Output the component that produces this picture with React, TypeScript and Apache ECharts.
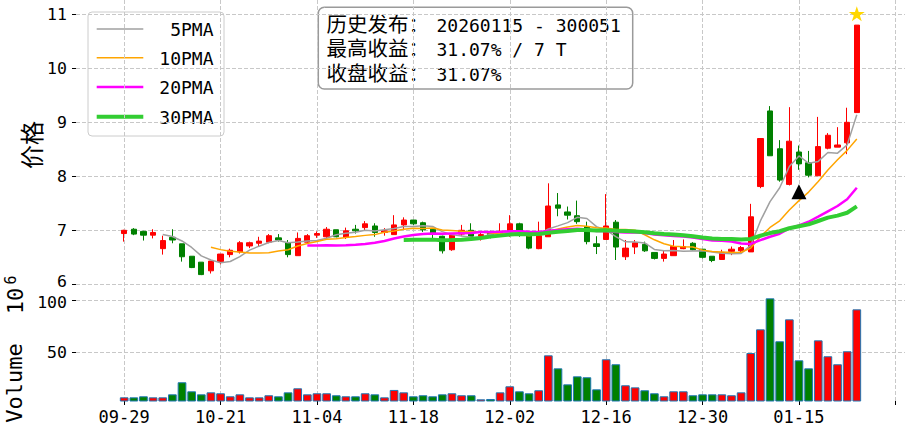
import React, { useEffect, useRef } from 'react';
import * as echarts from 'echarts';

// ---------- data ----------
const dates = [
  '09-29', '09-30', '10-09', '10-10', '10-13', '10-14', '10-15', '10-16', '10-17', '10-20',
  '10-21', '10-22', '10-23', '10-24', '10-27', '10-28', '10-29', '10-30', '10-31', '11-03',
  '11-04', '11-05', '11-06', '11-07', '11-10', '11-11', '11-12', '11-13', '11-14', '11-17',
  '11-18', '11-19', '11-20', '11-21', '11-24', '11-25', '11-26', '11-27', '11-28', '12-01',
  '12-02', '12-03', '12-04', '12-05', '12-08', '12-09', '12-10', '12-11', '12-12', '12-15',
  '12-16', '12-17', '12-18', '12-19', '12-22', '12-23', '12-24', '12-25', '12-26', '12-29',
  '12-30', '12-31', '01-05', '01-06', '01-07', '01-08', '01-09', '01-12', '01-13', '01-14',
  '01-15', '01-16', '01-19', '01-20', '01-21', '01-22', '01-23',
];

const opens = [
  6.94, 7.02, 6.98, 6.91, 6.66, 6.87, 6.75, 6.52, 6.41, 6.25,
  6.42, 6.55, 6.60, 6.71, 6.76, 6.78, 6.86, 6.77, 6.53, 6.78,
  6.91, 6.88, 7.01, 6.87, 7.02, 7.05, 7.08, 6.96, 6.92, 7.10,
  7.19, 7.14, 7.02, 6.89, 6.64, 6.93, 7.00, 6.89, 6.95, 6.94,
  6.97, 7.12, 6.91, 6.66, 6.88, 7.47, 7.34, 7.27, 7.07, 6.75,
  6.83, 7.15, 6.51, 6.69, 6.74, 6.59, 6.48, 6.53, 6.66, 6.76,
  6.65, 6.52, 6.46, 6.61, 6.62, 6.60, 7.81, 9.21, 8.51, 7.85,
  8.45, 8.25, 8.01, 8.52, 8.54, 8.62, 9.18,
];
const closes = [
  7.00, 6.93, 6.91, 6.96, 6.81, 6.82, 6.51, 6.31, 6.18, 6.43,
  6.56, 6.63, 6.77, 6.77, 6.80, 6.90, 6.82, 6.55, 6.85, 6.90,
  6.94, 7.02, 6.88, 6.99, 6.99, 7.12, 6.96, 6.99, 7.10, 7.19,
  7.12, 7.01, 6.94, 6.62, 6.91, 7.00, 6.89, 6.92, 6.92, 6.98,
  7.12, 6.98, 6.67, 6.90, 7.45, 7.41, 7.28, 7.16, 6.79, 6.70,
  7.08, 6.69, 6.67, 6.77, 6.62, 6.48, 6.56, 6.70, 6.70, 6.64,
  6.50, 6.44, 6.59, 6.65, 6.68, 7.25, 8.70, 8.38, 7.93, 8.65,
  8.23, 8.02, 8.55, 8.76, 8.58, 9.00, 10.80,
];
const lows = [
  6.79, 6.91, 6.81, 6.85, 6.55, 6.76, 6.42, 6.30, 6.17, 6.20,
  6.37, 6.50, 6.57, 6.67, 6.69, 6.76, 6.79, 6.50, 6.53, 6.76,
  6.86, 6.86, 6.87, 6.84, 6.94, 6.99, 6.88, 6.90, 6.92, 7.02,
  7.10, 6.97, 6.84, 6.57, 6.62, 6.89, 6.83, 6.81, 6.85, 6.88,
  6.88, 6.88, 6.65, 6.65, 6.88, 7.26, 7.20, 7.12, 6.74, 6.56,
  6.83, 6.45, 6.45, 6.56, 6.60, 6.46, 6.42, 6.53, 6.65, 6.63,
  6.48, 6.41, 6.46, 6.54, 6.60, 6.60, 7.78, 8.38, 7.90, 7.83,
  8.12, 7.98, 8.01, 8.50, 8.54, 8.41, 9.18,
];
const highs = [
  7.01, 7.04, 6.99, 7.02, 6.90, 7.02, 6.75, 6.52, 6.41, 6.43,
  6.56, 6.66, 6.80, 6.79, 6.88, 6.93, 6.93, 6.82, 6.96, 6.93,
  6.98, 7.06, 7.01, 7.05, 7.10, 7.17, 7.13, 7.04, 7.28, 7.24,
  7.19, 7.16, 7.03, 6.90, 6.93, 7.10, 7.13, 6.97, 6.99, 7.13,
  7.28, 7.14, 6.91, 7.16, 7.87, 7.69, 7.44, 7.55, 7.16, 6.89,
  7.67, 7.19, 6.82, 6.82, 6.79, 6.59, 6.62, 6.82, 6.83, 6.78,
  6.65, 6.52, 6.64, 6.70, 6.71, 7.49, 8.70, 9.30, 8.67, 9.28,
  8.57, 8.47, 9.10, 8.80, 8.91, 9.27, 10.80,
];
// volume, in units of 10^6
const volumes = [
  6.7, 6.7, 7.7, 6.7, 6.7, 9.6, 21.2, 12.5, 9.6, 11.5,
  10.6, 7.7, 9.6, 6.7, 6.7, 8.7, 7.7, 11.5, 15.4, 9.6,
  10.6, 10.6, 8.7, 7.7, 7.7, 10.6, 9.6, 6.7, 13.8, 11.5,
  7.7, 8.7, 7.7, 9.6, 10.6, 8.7, 8.7, 4.8, 5.1, 11.5,
  17.3, 12.5, 10.6, 13.5, 47.1, 34.6, 19.2, 26.9, 26.0, 14.4,
  43.3, 38.5, 18.3, 16.3, 13.5, 10.6, 7.7, 12.5, 12.5, 8.7,
  9.6, 9.6, 9.6, 8.7, 11.5, 49.3, 72.1, 101.9, 60.6, 81.7,
  42.3, 34.6, 61.5, 46.2, 38.5, 51.0, 91.3,
];

const maNames = ['5PMA', '10PMA', '20PMA', '30PMA'];
const maPeriods = [5, 10, 20, 30];
const priceTicks = [6, 7, 8, 9, 10, 11];
const volumeTicks = [50, 100];
const releaseMarker = { date: '01-15', price: 7.715 };
const peakMarker = { date: '01-23', price: 11.01 };
const infoLabels = ['历史发布：', '最高收益：', '收盘收益：'];
const infoValues = ['20260115 - 300051', '31.07% / 7 T', '31.07%'];

// ---------- layout / style ----------
const PAD_BEFORE = 5;
const PAD_AFTER = 5;
const TICK_EVERY = 10;
const UNIT = 9.663;
const FIRST_X = 124.3;
const MONO = "'DejaVu Sans Mono', monospace";
const CJK = "'Noto Sans CJK SC', sans-serif";
// compact line metrics (DejaVu Sans) with Chinese glyphs from Noto Sans CJK SC
const CJK_COMPACT = "'DejaVu Sans', 'Noto Sans CJK SC', sans-serif";
const UP = '#ff0000';
const DOWN = '#008000';
const GRID_LINE = { color: '#c8c8c8', width: 1, type: [4, 2] };
const maStyles = [
  { color: '#a0a0a0', width: 1.5 },
  { color: '#ffa500', width: 1.5 },
  { color: '#ff00ff', width: 2.5 },
  { color: '#32cd32', width: 4 },
];

const xCats = [
  ...Array(PAD_BEFORE).fill(''),
  ...dates,
  ...Array(PAD_AFTER).fill(''),
];
const tickFn = (index: number) => index >= PAD_BEFORE && (index - PAD_BEFORE) % TICK_EVERY === 0;

function movingAverage(values: number[], n: number) {
  const out: [number, number][] = [];
  for (let i = n - 1; i < values.length; i++) {
    let s = 0;
    for (let j = i - n + 1; j <= i; j++) s += values[j];
    out.push([i + PAD_BEFORE, +(s / n).toFixed(4)]);
  }
  return out;
}

function buildOption() {
  const gridLeft = FIRST_X - PAD_BEFORE * UNIT;
  const gridWidth = (xCats.length - 1) * UNIT;
  const priceTop = 0, priceBottom = 289, volTop = 289, volBottom = 401;
  const pxPerPrice = 54, priceRef = 11, priceRefY = 14.3;
  const pxPerVol = 1.04, volRef = 100, volRefY = 300.3;

  const priceMax = priceRef + (priceRefY - priceTop) / pxPerPrice;
  const priceMin = priceRef - (priceBottom - priceRefY) / pxPerPrice;
  const volMax = volRef + (volRefY - volTop) / pxPerVol;
  const volMin = volRef - (volBottom - volRefY) / pxPerVol;

  const labelFont = { color: '#000', fontFamily: MONO, fontSize: 16.5 };

  const xAxis = (gridIndex: number, labels: boolean) => ({
    type: 'category',
    gridIndex,
    data: xCats,
    boundaryGap: false,
    axisLine: { show: false },
    axisTick: { show: labels, length: 4, interval: tickFn, lineStyle: { color: '#000', width: 1 } },
    axisLabel: { show: labels, interval: tickFn, margin: 7, ...labelFont, fontSize: 17 },
    splitLine: { show: true, interval: tickFn, lineStyle: GRID_LINE },
  });

  // the lowest price label and the highest volume label sit close together: nudge them apart slightly
  const yAxis = (gridIndex: number, min: number, max: number, ticks: number[], nudge: 'up' | 'down') => ({
    type: 'value',
    gridIndex,
    min, max,
    axisLine: { show: false },
    axisTick: { show: true, length: 4, customValues: ticks, lineStyle: { color: '#000', width: 1 } },
    axisLabel: {
      customValues: ticks, margin: 9, ...labelFont,
      formatter: (v: number) => {
        const edge = nudge === 'up' ? ticks[0] : ticks[ticks.length - 1];
        return v === edge ? `{n|${v}}` : `${v}`;
      },
      rich: {
        n: {
          ...labelFont,
          padding: nudge === 'up' ? [0, 0, 5, 0] : [4, 0, 0, 0],
        },
      },
    },
    splitLine: { show: true, lineStyle: GRID_LINE },
  });

  const candleData = dates.map((_, i) => [i + PAD_BEFORE, opens[i], closes[i], lows[i], highs[i]]);
  const volData = dates.map((_, i) => ({
    value: [i + PAD_BEFORE, volumes[i]],
    itemStyle: { color: closes[i] >= opens[i] ? UP : DOWN },
  }));

  const maSeries = maPeriods.map((p, k) => ({
    name: maNames[k],
    type: 'line',
    xAxisIndex: 0,
    yAxisIndex: 0,
    data: movingAverage(closes, p),
    showSymbol: false,
    symbol: 'none',
    smooth: false,
    lineStyle: { color: maStyles[k].color, width: maStyles[k].width },
    z: 3,
  }));

  const legendX0 = 88, legendY0 = 12, legendW = 136, legendH = 124;
  const legendRowY = [29, 57.7, 87, 116.7];
  const legendEls: any[] = [
    {
      type: 'rect',
      shape: { x: legendX0, y: legendY0, width: legendW, height: legendH, r: 4 },
      style: { fill: 'rgba(255,255,255,0.8)', stroke: '#cccccc', lineWidth: 1 },
    },
  ];
  maNames.forEach((name, k) => {
    legendEls.push({
      type: 'line',
      shape: { x1: 96.7, y1: legendRowY[k], x2: 143.3, y2: legendRowY[k] },
      style: { stroke: maStyles[k].color, lineWidth: maStyles[k].width },
    });
    legendEls.push({
      type: 'text',
      x: 213.5,
      y: legendRowY[k] + 0.5,
      style: {
        text: name, fill: '#000', fontFamily: MONO, fontSize: 18,
        align: 'right', verticalAlign: 'middle',
      },
    });
  });

  const infoRowY = [25, 49.3, 74];
  const infoEls: any[] = [
    {
      type: 'rect',
      shape: { x: 318.3, y: 7.3, width: 314.4, height: 81.7, r: 6 },
      style: { fill: 'rgba(255,255,255,0.9)', stroke: '#9a9a9a', lineWidth: 1.5 },
    },
  ];
  infoLabels.forEach((lab, k) => {
    infoEls.push({
      type: 'text',
      x: 326.5,
      y: infoRowY[k],
      style: {
        text: `{c|${lab}}{e|${infoValues[k]}}`,
        align: 'left',
        verticalAlign: 'middle',
        fill: '#000',
        rich: {
          c: { fontFamily: CJK_COMPACT, fontSize: 20.5, width: 110, fill: '#000', color: '#000' },
          e: { fontFamily: MONO, fontSize: 18, fill: '#000', color: '#000' },
        },
      },
    });
  });

  const axisNameEls: any[] = [
    {
      type: 'text', x: 30, y: 145, rotation: Math.PI / 2,
      style: { text: '价格', fontFamily: CJK, fontSize: 24, fill: '#000', align: 'center', verticalAlign: 'middle' },
    },
    {
      type: 'text', x: 14, y: 383, rotation: Math.PI / 2,
      style: { text: 'Volume', fontFamily: MONO, fontSize: 22, fill: '#000', align: 'center', verticalAlign: 'middle' },
    },
    {
      type: 'text', x: 15.5, y: 301, rotation: Math.PI / 2,
      style: { text: '10', fontFamily: MONO, fontSize: 22, fill: '#000', align: 'center', verticalAlign: 'middle' },
    },
    {
      type: 'text', x: 10.5, y: 280, rotation: Math.PI / 2,
      style: { text: '6', fontFamily: MONO, fontSize: 15, fill: '#000', align: 'center', verticalAlign: 'middle' },
    },
  ];

  const starPath = 'path://M50,0 L61.2,34.5 L97.6,34.5 L68.2,55.9 L79.4,90.5 L50,69.1 L20.6,90.5 L31.8,55.9 L2.4,34.5 L38.8,34.5 Z';

  return {
    animation: false,
    backgroundColor: '#fff',
    grid: [
      { left: gridLeft, width: gridWidth, top: priceTop, height: priceBottom - priceTop, containLabel: false },
      { left: gridLeft, width: gridWidth, top: volTop, height: volBottom - volTop, containLabel: false },
    ],
    xAxis: [xAxis(0, false), xAxis(1, true)],
    yAxis: [
      yAxis(0, priceMin, priceMax, priceTicks, 'up'),
      yAxis(1, volMin, volMax, volumeTicks, 'down'),
    ],
    series: [
      {
        type: 'candlestick',
        xAxisIndex: 0,
        yAxisIndex: 0,
        data: candleData,
        encode: { x: 0, y: [1, 2, 3, 4] },
        barWidth: 5.8,
        itemStyle: { color: UP, color0: DOWN, borderColor: UP, borderColor0: DOWN, borderWidth: 1 },
        z: 2,
      },
      ...maSeries,
      {
        type: 'bar',
        xAxisIndex: 1,
        yAxisIndex: 1,
        data: volData,
        barWidth: 8.7,
        itemStyle: { borderColor: '#1f77b4', borderWidth: 1 },
      },
      {
        type: 'scatter',
        xAxisIndex: 0,
        yAxisIndex: 0,
        data: [[dates.indexOf(releaseMarker.date) + PAD_BEFORE, releaseMarker.price]],
        symbol: 'triangle',
        symbolSize: [15, 15],
        itemStyle: { color: '#000', opacity: 1 },
        z: 5,
      },
      {
        type: 'scatter',
        xAxisIndex: 0,
        yAxisIndex: 0,
        data: [[dates.indexOf(peakMarker.date) + PAD_BEFORE, peakMarker.price]],
        symbol: starPath,
        symbolKeepAspect: true,
        symbolSize: 16,
        itemStyle: { color: '#ffd700', opacity: 1 },
        z: 5,
      },
    ],
    graphic: [
      { type: 'group', z: 100, children: legendEls },
      { type: 'group', z: 100, children: infoEls },
      { type: 'group', z: 100, children: axisNameEls },
    ],
  };
}

export default function App() {
  const ref = useRef<HTMLDivElement>(null);
  useEffect(() => {
    if (!ref.current) return;
    const chart = echarts.init(ref.current, null, { renderer: 'svg' });
    chart.setOption(buildOption() as any);
    return () => chart.dispose();
  }, []);
  return (
    <div
      ref={ref}
      style={{ position: 'absolute', left: 0, top: 0, width: 905, height: 430, background: '#fff' }}
    />
  );
}
